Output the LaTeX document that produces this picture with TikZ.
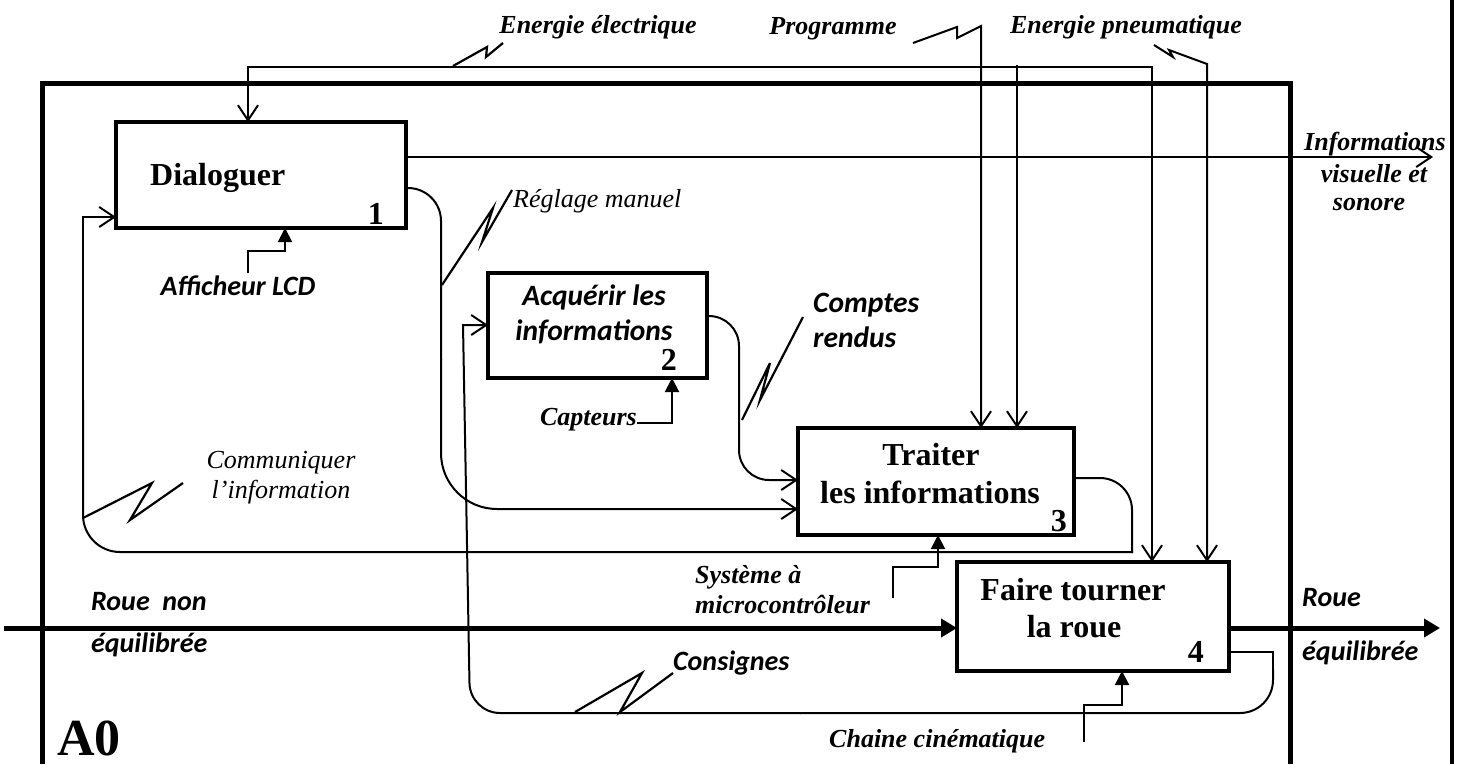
\documentclass[tikz,border=0pt]{standalone}
\usepackage{fontspec}
\setmainfont{Liberation Serif}
\newfontfamily\carlito{Carlito}
\usetikzlibrary{arrows.meta}
\tikzset{
  box/.style={draw, line width=4pt, inner sep=0pt, outer sep=0pt, rectangle},
  conn/.style={line width=2pt},
  barb/.style={conn, -{Straight Barb[length=15pt,width=20pt]}},
  dbarb/.style={conn, {Straight Barb[length=15pt,width=20pt]}-{Straight Barb[length=15pt,width=20pt]}},
  mech/.style={conn, -{Triangle[length=14pt,width=14pt]}},
  flow/.style={line width=5pt, -{Triangle[length=16pt,width=18pt]}},
  zig/.style={line width=2.2pt},
  ttl/.style={font=\fontsize{32}{36}\selectfont\bfseries, inner sep=0pt, anchor=base},
  num/.style={font=\fontsize{32}{36}\selectfont\bfseries, inner sep=0pt, anchor=base east},
  lbi/.style={font=\fontsize{26}{30}\selectfont\bfseries\itshape, inner sep=0pt, anchor=base},
  lit/.style={font=\fontsize{26}{30}\selectfont\itshape, inner sep=0pt, anchor=base},
  lsf/.style={font=\carlito\fontsize{28}{32}\selectfont\bfseries\itshape, inner sep=0pt, anchor=base},
  lsfl/.style={lsf, font=\carlito\fontsize{29.5}{32}\selectfont\bfseries\itshape},
}
\begin{document}
\begin{tikzpicture}[x=1pt,y=-1pt]
\useasboundingbox (0,0) rectangle (1466,764);
\fill[white] (0,0) rectangle (1466,764);

% outer frame of the A0 diagram and right border
\draw[line width=5pt] (42,764) -- (42,83) -- (1290,83) -- (1290,764);
\draw[line width=3.5pt] (1452,0) -- (1452,764);

% activity boxes
\node[box, minimum width=290pt, minimum height=106pt] (b1) at (261,175) {};
\node[box, minimum width=219pt, minimum height=105pt] (b2) at (597.5,325.5) {};
\node[box, minimum width=276pt, minimum height=107pt] (b3) at (936,481.5) {};
\node[box, minimum width=272pt, minimum height=109pt] (b4) at (1093,616.5) {};

\node[ttl, anchor=base west] (t1) at (150,185) {Dialoguer};
\node[num] (n1) at (384,224) {1};
\node[lsfl] (t2a) at (594,305) {Acquérir les};
\node[lsfl] (t2b) at (594,340) {informations};
\node[num] (n2) at (677,370) {2};
\node[ttl] (t3a) at (931,465) {Traiter};
\node[ttl] (t3b) at (930,503) {les informations};
\node[num] (n3) at (1067,531) {3};
\node[ttl] (t4a) at (1073,600) {Faire tourner};
\node[ttl] (t4b) at (1074,637) {la roue};
\node[num] (n4) at (1204,662) {4};
\node[font=\fontsize{52}{56}\selectfont\bfseries, inner sep=0pt, anchor=base west] (a0) at (57,755) {A0};

% free ends and bends
\coordinate (ee1) at (248,67);
\coordinate (ee2) at (1152,67);
\coordinate (ee3) at (1017,65);
\coordinate (pg0) at (913,43);
\coordinate (pg) at (981,26);
\coordinate (pn0) at (1154,45);
\coordinate (pn) at (1207,64);
\coordinate (io) at (1433,157);
\coordinate (rin) at (4,628);
\coordinate (rout) at (1440,628);
\coordinate (af) at (248,273);
\coordinate (cp) at (637,423);
\coordinate (sy) at (893,598);
\coordinate (ch) at (1084,742);

% electrical energy
\draw[dbarb] (b1.north -| ee1) -- (ee1) -- (ee2) -- (b4.north -| ee2);
\draw[barb] (ee3) -- (b3.north -| ee3);
\draw[zig] (453,66) -- (487,47) -- (486,57) -- (503,43);

% program
\draw[barb] (pg0) -- (957,27) -- (957,38) -- (pg) -- (b3.north -| pg);

% pneumatic energy
\draw[barb] (pn0) -- (1173,57) -- (1169,50) -- (pn) -- (b4.north -| pn);

% visual and sound information
\draw[barb] (b1.east |- io) -- (io);

% manual setting: 1 -> 3
\draw[conn, rounded corners=33pt] (b1.east |- 0,188) -- (441,188) -- (441,360);
\draw[barb, rounded corners=56pt] (441,359) -- (441,509) -- (b3.west |- 0,509);
\draw[zig] (442,285) -- (493,208) -- (482,242) -- (512,190);

% reports: 2 -> 3
\draw[barb, rounded corners=30pt] (b2.east |- 0,316) -- (739,316) -- (739,480) -- (b3.west |- 0,480);
\draw[zig] (742,420) -- (770,363) -- (760,400) -- (803,317);

% communicate the information: 3 -> 1
\draw[conn, rounded corners=32pt] (b3.east |- 0,478) -- (1132,478) -- (1132,553);
\draw[conn, rounded corners=37pt] (1133,552) -- (83,552) -- (83,400);
\draw[barb] (83,401) -- (83,217) -- (b1.west |- 0,217);
\draw[zig] (83,518) -- (152,483) -- (130,520) -- (183,483);

% set points: 4 -> 2
\draw[conn] (b4.east |- 0,652) -- (1273,652) -- (1273,670);
\draw[conn, rounded corners=33pt] (1273,669) -- (1273,713) -- (800,713);
\draw[conn, rounded corners=30pt] (801,713) -- (470,713) -- (466.2,500);
\draw[barb] (466.2,501) -- (463,325) -- (b2.west |- 0,325);
\draw[zig] (575,712) -- (642,673) -- (620,712) -- (673,673);

% mechanisms
\draw[mech] (af) -- (248,251) -- (285,251) -- (b1.south -| 285,0);
\draw[mech] (cp) -- (672,423) -- (b2.south -| 672,0);
\draw[mech] (sy) -- (893,567) -- (938,567) -- (b3.south -| 938,0);
\draw[mech] (ch) -- (1084,705) -- (1122,705) -- (b4.south -| 1122,0);

% wheel flow
\draw[flow] (rin) -- (b4.west |- rin);
\draw[flow] (b4.east |- rout) -- (rout);

% labels
\node[lbi] (lee) at (598,33) {Energie électrique};
\node[lbi] (lpg) at (833,34) {Programme};
\node[lbi] (lpn) at (1126,33) {Energie pneumatique};
\node[lbi] (li1) at (1375,150) {Informations};
\node[lbi] (li2) at (1374,182) {visuelle et};
\node[lbi] (li3) at (1369,210) {sonore};
\node[lit, anchor=base west] (lrm) at (513,207) {Réglage manuel};
\node[lsf] (laf) at (238,295) {Afficheur LCD};
\node[lsfl, anchor=base west] (lcr1) at (813,312) {Comptes};
\node[lsfl, anchor=base west] (lcr2) at (813,347) {rendus};
\node[lbi, anchor=base east] (lcap) at (637,425) {Capteurs};
\node[lit] (lcom1) at (281,468) {Communiquer};
\node[lit] (lcom2) at (281,498) {l’information};
\node[lbi, anchor=base west] (lsys1) at (695,583) {Système à};
\node[lbi, anchor=base west] (lsys2) at (695,613) {microcontrôleur};
\node[lsf, anchor=base west] (lrn1) at (91,610) {Roue~~non};
\node[lsf, anchor=base west] (lrn2) at (91,652) {équilibrée};
\node[lsf, anchor=base west] (lre1) at (1302,606) {Roue};
\node[lsf, anchor=base west] (lre2) at (1302,660) {équilibrée};
\node[lsf, anchor=base west] (lcons) at (673,670) {Consignes};
\node[lbi, anchor=base west] (lch) at (829,747) {Chaine cinématique};
\end{tikzpicture}
\end{document}
